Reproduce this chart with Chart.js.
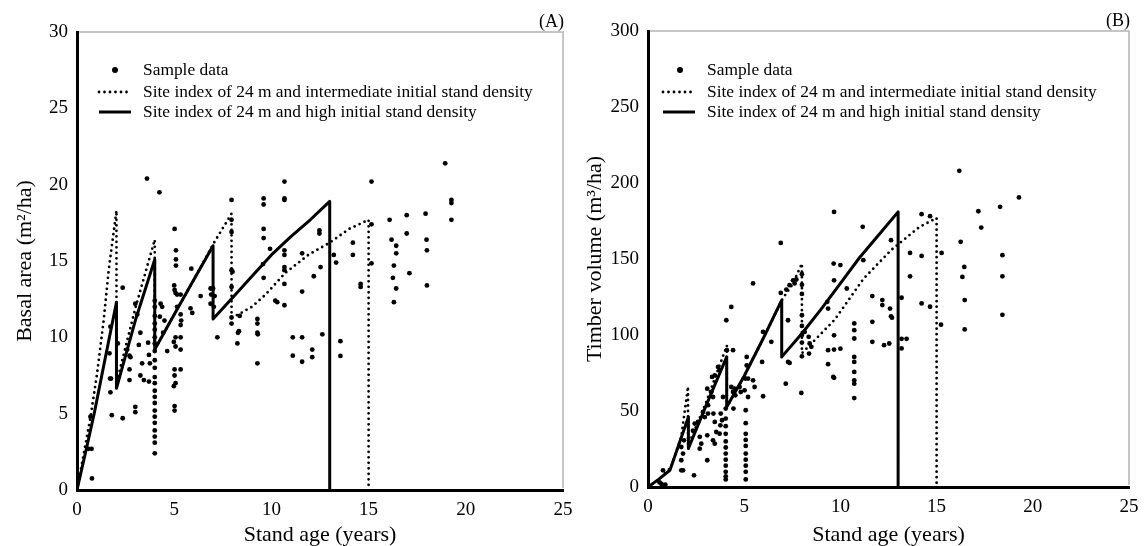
<!DOCTYPE html>
<html><head><meta charset="utf-8">
<script src="https://cdn.jsdelivr.net/npm/chart.js@4.4.0/dist/chart.umd.min.js"></script>
<style>
html,body{margin:0;padding:0;background:#fff;}
#wrapA{position:absolute;left:0;top:0;width:572px;height:546px;}
#wrapB{position:absolute;left:572px;top:0;width:573px;height:546px;}
</style></head><body>
<div id="wrapA"><canvas id="cA" width="572" height="546"></canvas></div>
<div id="wrapB"><canvas id="cB" width="573" height="546"></canvas></div>
<script>
// ---------- DATA ----------
const seriesLabels = ['Sample data', 'Site index of 24 m and intermediate initial stand density', 'Site index of 24 m and high initial stand density'];
const xTitle = 'Stand age (years)';
const yTitleA = 'Basal area (m\u00B2/ha)';
const yTitleB = 'Timber volume (m\u00B3/ha)';

// Panel A: basal area (m2/ha)
const sampleA = [
 [0.77,0.76],[0.69,4.8],[0.6,2.7],[0.75,2.7],
 [1.72,6.4],[1.75,7.3],[1.7,7.3],[1.79,4.9],[1.67,8.95],[1.72,10.7],
 [2.35,13.25],[2.35,4.7],[2.1,9.6],[2.7,8.8],[2.75,8.7],[2.7,7.9],[2.7,7.2],[2.58,9.2],
 [3.0,12.2],[3.1,11.5],[3.0,5.45],[3.0,5.1],[3.26,10.3],[3.18,9.5],[3.35,8.3],[3.26,7.5],[3.44,7.2],
 [3.66,9.65],[3.7,8.85],[3.75,8.3],[3.7,7.1],[3.6,20.4],[4.24,19.5],
 [4.0,12.4],[4.0,12.0],[4.0,11.4],[4.0,10.9],[4.0,10.5],[4.0,10.0],[4.0,9.6],[4.0,9.1],[4.0,8.5],[4.0,8.0],[4.0,7.4],
 [4.0,7.0],[4.0,6.5],[4.0,6.1],[4.0,5.7],[4.0,5.2],[4.0,4.8],[4.0,4.4],[4.0,3.9],[4.0,3.5],[4.0,3.1],[4.0,2.4],
 [4.3,12.2],[4.38,12.0],[4.26,11.35],[4.5,11.1],[4.43,10.3],[4.64,9.1],
 [5.02,17.1],[5.09,15.7],[5.09,15.1],[5.09,14.7],[5.0,13.4],[5.02,13.1],[5.07,12.9],[5.15,12.8],[5.33,12.8],[5.15,12.0],
 [5.33,11.5],[5.36,11.1],[5.33,10.8],[5.33,10.0],[5.07,10.0],[4.98,9.7],[5.07,9.4],[5.33,9.2],[5.02,7.9],[5.02,7.5],
 [5.07,7.0],[4.98,6.8],[5.02,5.5],[5.02,5.2],[5.33,7.9],
 [5.88,14.5],[5.84,11.9],[5.93,11.6],[6.36,12.7],[6.87,13.2],[7.0,13.2],[6.9,12.8],[7.08,12.7],[6.87,12.2],[7.04,12.0],[7.22,10.0],
 [7.95,19.0],[7.95,17.7],[7.95,16.9],[7.95,14.4],[8.0,14.3],[7.95,13.3],[7.95,11.3],[7.95,10.9],
 [8.33,10.4],[8.28,10.3],[8.25,9.6],[8.37,11.4],
 [9.6,19.1],[9.6,18.7],[9.6,17.1],[9.6,16.5],[9.93,15.8],[9.57,14.8],[9.6,13.9],[9.28,11.2],[9.28,10.9],[9.28,10.3],[9.3,10.2],[9.28,8.3],[10.2,12.4],
 [10.67,20.2],[10.67,19.1],[10.67,19.0],[10.67,15.7],[10.67,15.4],[10.67,14.6],[10.67,14.4],[10.67,13.5],[11.58,15.5],[10.3,12.3],
 [10.67,12.1],[11.58,13.0],[12.18,14.0],[12.53,14.6],[12.47,16.8],[12.47,17.0],
 [11.1,10.0],[11.58,10.0],[11.1,8.8],[12.1,9.2],[12.1,8.7],[11.58,8.4],[12.62,10.2],
 [13.21,15.4],[13.33,14.9],[13.55,9.75],[13.55,8.78],[14.19,16.2],[14.19,15.4],[14.59,13.5],[14.59,13.3],
 [15.15,20.2],[15.15,17.4],[15.15,14.85],
 [16.08,17.7],[16.18,16.4],[16.42,16.0],[16.42,15.5],[16.3,14.7],[16.25,13.9],[16.42,13.2],[16.3,12.3],
 [16.96,18.0],[16.96,16.8],[17.1,14.2],[17.93,18.1],[17.98,16.4],[18.0,15.7],[18.0,13.4],[18.94,21.4],[19.26,19.0],[19.26,18.8],[19.26,17.7]
];
const interA = [
 [0,0],[0.35,2.4],[0.7,4.8],[1.03,7.6],[1.37,11.1],[1.63,14.4],[2.03,18.3],[2.03,7.0],[3.0,11.9],[4.0,16.4],
 [4.0,9.2],[5.0,11.5],[6.0,13.75],[7.05,16.2],[7.95,18.1],[7.95,11.3],[8.3,11.5],[9.0,12.0],[9.7,12.8],
 [10.7,14.2],[11.9,15.4],[13.0,16.2],[14.0,17.1],[15.0,17.7],[15.0,0]
];
const highA = [
 [0,0],[0.5,2.8],[0.9,5.1],[1.4,8.3],[2.03,12.3],[2.03,6.66],[3.0,11.1],[4.0,15.1],
 [4.0,9.2],[5.0,11.5],[6.0,13.75],[7.0,16.0],[7.0,11.2],[8.0,12.6],[9.0,14.0],[10.0,15.4],
 [11.0,16.6],[12.0,17.7],[13.0,18.9],[13.0,0]
];

// Panel B: timber volume (m3/ha)
const sampleB = [
 [0.6,3],[0.7,2],[0.9,1.5],[0.78,11],
 [1.73,11],[1.82,11],[1.73,17.6],[1.82,22],[1.73,26.3],[1.87,30.7],[2.39,7.7],
 [2.34,37],[2.43,41.7],[2.6,42.8],[2.69,33],[2.77,28.5],[2.69,25.2],[3.08,17.6],[2.86,49.4],[2.95,46],[3.12,53.8],[3.12,48.3],
 [3.08,64.7],[3.29,62.5],[3.38,59.2],[3.33,72.4],[3.47,73.5],[3.4,48.3],[3.47,42.8],[3.55,36.2],[3.38,30.7],[3.47,28.5],[3.08,34],
 [3.64,79],[3.72,76.8],[3.78,48.3],[3.85,43.9],[3.76,40.6],[3.72,35.1],[3.9,59.2],
 [4.07,109.7],[4.33,118.5],[4.1,90],[4.42,90],
 [4.04,51.6],[4.04,45],[4.04,40],[4.04,35],[4.04,30],[4.04,26],[4.04,22],[4.04,18],[4.04,14],[4.04,10],[4.04,7],[4.04,5],
 [4.33,65.8],[4.5,64.7],[4.42,62.5],[4.54,60.3],[4.44,51.6],[4.76,65.8],[4.82,62.5],[5.02,63.6],[5.2,59.2],[5.06,71.3],[5.2,71.3],[5.13,85.6],[5.13,80],
 [5.08,50.5],[5.08,42],[5.08,35],[5.08,31],[5.08,27],[5.08,22],[5.08,18],[5.08,14],[5.08,10],[5.08,5],
 [5.46,70.2],[5.54,65.8],[5.93,82.3],[5.98,102],[5.98,59.7],[5.46,133.9],[6.41,95.5],[6.9,160.6],[6.9,127.7],[7.19,129.9],
 [7.28,109.7],[7.28,82.3],[7.36,81.6],[7.16,68],[7.36,132.8],[7.54,136],[7.71,136.5],[7.62,133.9],[7.97,61.9],
 [8.0,140],[8.0,133],[8.0,127],[8.0,113],[8.0,106],[8.0,100],[8.0,95],[8.0,86],
 [8.14,102],[8.35,98.8],[8.4,94.4],[8.49,92.2],[8.37,87.8],
 [9.32,121.8],[9.36,117.4],[9.36,90],[9.36,80.8],[9.63,72.4],[9.67,99.8],[10.0,91],[9.65,147],[10.0,146],[10.33,130.6],
 [9.67,181],[11.16,171.2],[12.63,162.4],[11.19,149.2],[9.67,136],[11.66,125.6],[12.18,123],[12.18,119.7],[12.58,117.4],[12.63,112.3],
 [12.68,111.4],[11.66,108.7],[10.72,107.6],[10.72,103.2],[10.72,97.7],[9.67,90.4],[11.66,95.5],[12.27,93.3],[12.54,94.4],
 [10.72,85.6],[10.72,82.3],[10.72,75.7],[10.72,70.2],[10.72,68],[9.67,71.8],[10.72,58.5],
 [13.18,124.5],[13.18,97.5],[13.44,97.5],[13.18,91.2],[13.62,154],[13.62,138.6],[14.22,179.5],[14.66,178.2],[14.22,152],[14.22,120.8],
 [14.66,118.6],[15.26,154],[15.23,106.8],[16.18,208],[16.25,161.3],[16.44,144.8],[16.34,138.2],[16.46,123],[16.46,103.7],
 [17.17,181.4],[17.32,170.7],[18.3,184.3],[18.42,152.5],[18.42,138.6],[18.42,113.3],[19.28,190.5]
];
const interB = [
 [0,0],[0.52,4.4],[1.2,13],[1.73,33],[2.08,66],[2.08,27],[3.0,55],[4.1,93],[4.1,52.7],[5.0,73],[6.0,98],
 [7.0,124],[7.5,133],[8.0,147],[8.0,88],[8.66,96.5],[9.7,110],[11.2,137],[12.65,156],[14.1,171],[15.0,177],[15.0,0]
];
const highB = [
 [0,0],[0.55,5],[1.14,11],[2.1,46],[2.1,25.3],[3.0,53],[4.09,85.6],[4.09,52.7],[5.0,73],[6.0,98],[6.95,122.9],
 [6.95,85.6],[8.0,101],[9.0,117],[10.0,134],[11.0,151],[12.0,166],[13.0,181],[13.0,0]
];

// ---------- CHART ----------
const SERIF = "'Liberation Serif','Times New Roman',serif";
const pts = arr => arr.map(p => ({x: p[0], y: p[1]}));

const deco = {
  id: 'deco',
  afterDraw(chart, args, o) {
    const ctx = chart.ctx, a = chart.chartArea;
    ctx.save();
    ctx.strokeStyle = '#b4b4b4'; ctx.lineWidth = 1.5;
    ctx.beginPath(); ctx.moveTo(a.left + 2, a.top); ctx.lineTo(a.right, a.top); ctx.lineTo(a.right, a.bottom - 2); ctx.stroke();
    ctx.fillStyle = '#000';
    ctx.font = '18px ' + SERIF; ctx.textAlign = 'right'; ctx.textBaseline = 'middle';
    ctx.fillText(o.tag, o.tagX, o.tagY);
    ctx.font = '17.4px ' + SERIF; ctx.textAlign = 'left';
    chart.data.datasets.forEach((ds, i) => {
      const y = o.legY[i];
      ctx.strokeStyle = '#000';
      if (i === 0) {
        ctx.beginPath(); ctx.arc(o.dotX, y, 3, 0, Math.PI * 2); ctx.fill();
      } else {
        ctx.save();
        ctx.lineWidth = ds.borderWidth; ctx.setLineDash(ds.borderDash || []);
        ctx.lineCap = ds.borderCapStyle || 'butt';
        ctx.beginPath(); ctx.moveTo(o.l0, y); ctx.lineTo(o.l1, y); ctx.stroke();
        ctx.restore();
      }
      ctx.fillText(ds.label, o.textX, y);
    });
    ctx.restore();
  }
};

function build(id, c) {
  return new Chart(document.getElementById(id), {
    type: 'scatter',
    data: { datasets: [
      { label: seriesLabels[0], data: pts(c.sample), showLine: false, pointRadius: 2.4, pointBorderWidth: 0, pointBackgroundColor: '#000', backgroundColor: '#000' },
      { label: seriesLabels[1], data: pts(c.inter), showLine: true, pointRadius: 0, borderColor: '#000', borderWidth: 2.8, borderDash: [0, 5.5], borderCapStyle: 'round', tension: 0 },
      { label: seriesLabels[2], data: pts(c.high), showLine: true, pointRadius: 0, borderColor: '#000', borderWidth: 3, borderJoinStyle: 'round', tension: 0 }
    ]},
    options: {
      responsive: false, animation: false, events: [],
      layout: { padding: { left: 0, top: c.padTop, right: c.padRight, bottom: 0 } },
      plugins: { legend: { display: false }, tooltip: { enabled: false }, deco: c.deco },
      scales: {
        x: {
          type: 'linear', min: 0, max: 25,
          ticks: { stepSize: 5, color: '#000', padding: 9, maxRotation: 0, font: { family: SERIF, size: 19 } },
          grid: { display: false, drawTicks: false },
          border: { display: true, color: '#000', width: 3 },
          title: { display: true, text: xTitle, color: '#000', font: { family: SERIF, size: 22, lineHeight: 1 }, padding: { top: 0, bottom: 0 } },
          afterFit(s) { s.height = c.xH; s.paddingLeft = 0; s.paddingRight = 0; }
        },
        y: {
          type: 'linear', min: 0, max: c.yMax,
          ticks: { stepSize: c.yStep, color: '#000', padding: 9, font: { family: SERIF, size: 19 } },
          grid: { display: false, drawTicks: false },
          border: { display: true, color: '#000', width: 3 },
          title: { display: true, text: c.yTitle, color: '#000', font: { family: SERIF, size: 22, lineHeight: 1 }, padding: { top: c.yTitlePad, bottom: 0 } },
          afterFit(s) { s.width = c.yW; s.paddingTop = 0; s.paddingBottom = 0; }
        }
      }
    },
    plugins: [deco]
  });
}

build('cA', {
  sample: sampleA, inter: interA, high: highA, yMax: 30, yStep: 5, yTitle: yTitleA,
  padTop: 32, padRight: 9, xH: 56, yW: 77, yTitlePad: 14,
  deco: { tag: '(A)', tagX: 564, tagY: 22, legY: [70, 92, 112], dotX: 115, l0: 99, l1: 131, textX: 143 }
});
build('cB', {
  sample: sampleB, inter: interB, high: highB, yMax: 300, yStep: 50, yTitle: yTitleB,
  padTop: 31, padRight: 16, xH: 59, yW: 76, yTitlePad: 12,
  deco: { tag: '(B)', tagX: 558, tagY: 21, legY: [70, 92, 112], dotX: 108, l0: 91, l1: 123, textX: 135 }
});
</script>
</body></html>
